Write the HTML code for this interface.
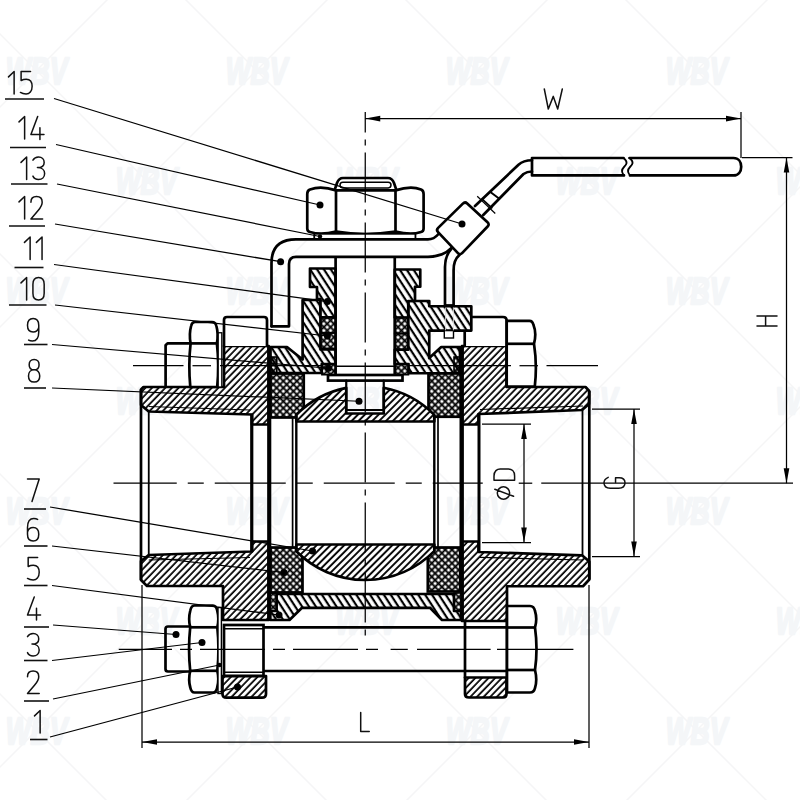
<!DOCTYPE html><html><head><meta charset="utf-8"><title>Ball valve</title>
<style>html,body{margin:0;padding:0;background:#fff}svg{display:block}text{font-family:"Liberation Sans",sans-serif}</style></head><body>
<svg width="800" height="800" viewBox="0 0 800 800">
<defs>
<pattern id="hA" width="4.77" height="4.77" patternUnits="userSpaceOnUse" patternTransform="rotate(-46)"><line x1="0" y1="2" x2="4.77" y2="2" stroke="#000" stroke-width="1.75"/></pattern>
<pattern id="hB" width="4.86" height="4.86" patternUnits="userSpaceOnUse" patternTransform="rotate(-45)"><line x1="0" y1="2" x2="4.86" y2="2" stroke="#000" stroke-width="1.9"/></pattern>
<pattern id="hC" width="5.77" height="5.77" patternUnits="userSpaceOnUse" patternTransform="rotate(57)"><line x1="0" y1="2" x2="5.77" y2="2" stroke="#000" stroke-width="2.2"/></pattern>
<pattern id="hX" width="4.77" height="4.77" patternUnits="userSpaceOnUse" patternTransform="rotate(45)"><path d="M0,2.385 L4.77,2.385 M2.385,0 L2.385,4.77" stroke="#000" stroke-width="1.85"/></pattern>
<pattern id="hP" width="4.77" height="4.77" patternUnits="userSpaceOnUse" patternTransform="rotate(45)"><path d="M0,2.385 L4.77,2.385 M2.385,0 L2.385,4.77" stroke="#000" stroke-width="1.8"/></pattern>
<pattern id="hD" width="2.6" height="2.6" patternUnits="userSpaceOnUse" patternTransform="rotate(-45)"><line x1="0" y1="1.3" x2="2.6" y2="1.3" stroke="#000" stroke-width="1.5"/></pattern>
</defs>
<rect width="800" height="800" fill="#fff"/>
<g stroke="#f5f5f6" stroke-width="1.5">
<line x1="-1234" y1="-100" x2="-234" y2="900"/>
<line x1="-1014" y1="-100" x2="-14" y2="900"/>
<line x1="-794" y1="-100" x2="206" y2="900"/>
<line x1="-574" y1="-100" x2="426" y2="900"/>
<line x1="-354" y1="-100" x2="646" y2="900"/>
<line x1="-134" y1="-100" x2="866" y2="900"/>
<line x1="86" y1="-100" x2="1086" y2="900"/>
<line x1="306" y1="-100" x2="1306" y2="900"/>
<line x1="526" y1="-100" x2="1526" y2="900"/>
<line x1="746" y1="-100" x2="1746" y2="900"/>
<line x1="966" y1="-100" x2="1966" y2="900"/>
<line x1="-13" y1="-100" x2="-1013" y2="900"/>
<line x1="207" y1="-100" x2="-793" y2="900"/>
<line x1="427" y1="-100" x2="-573" y2="900"/>
<line x1="647" y1="-100" x2="-353" y2="900"/>
<line x1="867" y1="-100" x2="-133" y2="900"/>
<line x1="1087" y1="-100" x2="87" y2="900"/>
<line x1="1307" y1="-100" x2="307" y2="900"/>
<line x1="1527" y1="-100" x2="527" y2="900"/>
<line x1="1747" y1="-100" x2="747" y2="900"/>
<line x1="1967" y1="-100" x2="967" y2="900"/>
</g>
<g fill="#f4f6f8" font-weight="bold" font-style="italic" font-size="33" text-anchor="middle" style="font-family:'Liberation Sans',sans-serif">
<text x="36.5" y="82.5" transform="translate(36.5,0) translate(0,70.5) scale(0.80,1.14) translate(-36.5,-70.5)" stroke="#f4f6f8" stroke-width="2.0" stroke-linejoin="round">WBV</text>
<text x="256.5" y="82.5" transform="translate(256.5,0) translate(0,70.5) scale(0.80,1.14) translate(-256.5,-70.5)" stroke="#f4f6f8" stroke-width="2.0" stroke-linejoin="round">WBV</text>
<text x="476.5" y="82.5" transform="translate(476.5,0) translate(0,70.5) scale(0.80,1.14) translate(-476.5,-70.5)" stroke="#f4f6f8" stroke-width="2.0" stroke-linejoin="round">WBV</text>
<text x="696.5" y="82.5" transform="translate(696.5,0) translate(0,70.5) scale(0.80,1.14) translate(-696.5,-70.5)" stroke="#f4f6f8" stroke-width="2.0" stroke-linejoin="round">WBV</text>
<text x="146.5" y="192.5" transform="translate(146.5,0) translate(0,180.5) scale(0.80,1.14) translate(-146.5,-180.5)" stroke="#f4f6f8" stroke-width="2.0" stroke-linejoin="round">WBV</text>
<text x="366.5" y="192.5" transform="translate(366.5,0) translate(0,180.5) scale(0.80,1.14) translate(-366.5,-180.5)" stroke="#f4f6f8" stroke-width="2.0" stroke-linejoin="round">WBV</text>
<text x="586.5" y="192.5" transform="translate(586.5,0) translate(0,180.5) scale(0.80,1.14) translate(-586.5,-180.5)" stroke="#f4f6f8" stroke-width="2.0" stroke-linejoin="round">WBV</text>
<text x="806.5" y="192.5" transform="translate(806.5,0) translate(0,180.5) scale(0.80,1.14) translate(-806.5,-180.5)" stroke="#f4f6f8" stroke-width="2.0" stroke-linejoin="round">WBV</text>
<text x="36.5" y="302.5" transform="translate(36.5,0) translate(0,290.5) scale(0.80,1.14) translate(-36.5,-290.5)" stroke="#f4f6f8" stroke-width="2.0" stroke-linejoin="round">WBV</text>
<text x="256.5" y="302.5" transform="translate(256.5,0) translate(0,290.5) scale(0.80,1.14) translate(-256.5,-290.5)" stroke="#f4f6f8" stroke-width="2.0" stroke-linejoin="round">WBV</text>
<text x="476.5" y="302.5" transform="translate(476.5,0) translate(0,290.5) scale(0.80,1.14) translate(-476.5,-290.5)" stroke="#f4f6f8" stroke-width="2.0" stroke-linejoin="round">WBV</text>
<text x="696.5" y="302.5" transform="translate(696.5,0) translate(0,290.5) scale(0.80,1.14) translate(-696.5,-290.5)" stroke="#f4f6f8" stroke-width="2.0" stroke-linejoin="round">WBV</text>
<text x="146.5" y="412.5" transform="translate(146.5,0) translate(0,400.5) scale(0.80,1.14) translate(-146.5,-400.5)" stroke="#f4f6f8" stroke-width="2.0" stroke-linejoin="round">WBV</text>
<text x="366.5" y="412.5" transform="translate(366.5,0) translate(0,400.5) scale(0.80,1.14) translate(-366.5,-400.5)" stroke="#f4f6f8" stroke-width="2.0" stroke-linejoin="round">WBV</text>
<text x="586.5" y="412.5" transform="translate(586.5,0) translate(0,400.5) scale(0.80,1.14) translate(-586.5,-400.5)" stroke="#f4f6f8" stroke-width="2.0" stroke-linejoin="round">WBV</text>
<text x="806.5" y="412.5" transform="translate(806.5,0) translate(0,400.5) scale(0.80,1.14) translate(-806.5,-400.5)" stroke="#f4f6f8" stroke-width="2.0" stroke-linejoin="round">WBV</text>
<text x="36.5" y="522.5" transform="translate(36.5,0) translate(0,510.5) scale(0.80,1.14) translate(-36.5,-510.5)" stroke="#f4f6f8" stroke-width="2.0" stroke-linejoin="round">WBV</text>
<text x="256.5" y="522.5" transform="translate(256.5,0) translate(0,510.5) scale(0.80,1.14) translate(-256.5,-510.5)" stroke="#f4f6f8" stroke-width="2.0" stroke-linejoin="round">WBV</text>
<text x="476.5" y="522.5" transform="translate(476.5,0) translate(0,510.5) scale(0.80,1.14) translate(-476.5,-510.5)" stroke="#f4f6f8" stroke-width="2.0" stroke-linejoin="round">WBV</text>
<text x="696.5" y="522.5" transform="translate(696.5,0) translate(0,510.5) scale(0.80,1.14) translate(-696.5,-510.5)" stroke="#f4f6f8" stroke-width="2.0" stroke-linejoin="round">WBV</text>
<text x="146.5" y="632.5" transform="translate(146.5,0) translate(0,620.5) scale(0.80,1.14) translate(-146.5,-620.5)" stroke="#f4f6f8" stroke-width="2.0" stroke-linejoin="round">WBV</text>
<text x="366.5" y="632.5" transform="translate(366.5,0) translate(0,620.5) scale(0.80,1.14) translate(-366.5,-620.5)" stroke="#f4f6f8" stroke-width="2.0" stroke-linejoin="round">WBV</text>
<text x="586.5" y="632.5" transform="translate(586.5,0) translate(0,620.5) scale(0.80,1.14) translate(-586.5,-620.5)" stroke="#f4f6f8" stroke-width="2.0" stroke-linejoin="round">WBV</text>
<text x="806.5" y="632.5" transform="translate(806.5,0) translate(0,620.5) scale(0.80,1.14) translate(-806.5,-620.5)" stroke="#f4f6f8" stroke-width="2.0" stroke-linejoin="round">WBV</text>
<text x="36.5" y="742.5" transform="translate(36.5,0) translate(0,730.5) scale(0.80,1.14) translate(-36.5,-730.5)" stroke="#f4f6f8" stroke-width="2.0" stroke-linejoin="round">WBV</text>
<text x="256.5" y="742.5" transform="translate(256.5,0) translate(0,730.5) scale(0.80,1.14) translate(-256.5,-730.5)" stroke="#f4f6f8" stroke-width="2.0" stroke-linejoin="round">WBV</text>
<text x="476.5" y="742.5" transform="translate(476.5,0) translate(0,730.5) scale(0.80,1.14) translate(-476.5,-730.5)" stroke="#f4f6f8" stroke-width="2.0" stroke-linejoin="round">WBV</text>
<text x="696.5" y="742.5" transform="translate(696.5,0) translate(0,730.5) scale(0.80,1.14) translate(-696.5,-730.5)" stroke="#f4f6f8" stroke-width="2.0" stroke-linejoin="round">WBV</text>
</g>
<polygon points="141.00,389.50 143.50,387.00 224.00,387.00 224.00,346.00 268.75,346.00 268.75,424.50 252.00,424.50 252.00,414.50 148.75,411.50 141.00,405.00" fill="#fff" stroke="none"/>
<polygon points="141.00,389.50 143.50,387.00 224.00,387.00 224.00,346.00 268.75,346.00 268.75,424.50 252.00,424.50 252.00,414.50 148.75,411.50 141.00,405.00" fill="url(#hA)" stroke="#000" stroke-width="2.7" stroke-linejoin="round" />
<polygon points="141.00,580.00 147.00,586.00 223.00,586.00 223.00,620.00 268.75,620.00 268.75,541.50 252.00,541.50 252.00,551.50 148.75,555.00 141.00,561.00" fill="#fff" stroke="none"/>
<polygon points="141.00,580.00 147.00,586.00 223.00,586.00 223.00,620.00 268.75,620.00 268.75,541.50 252.00,541.50 252.00,551.50 148.75,555.00 141.00,561.00" fill="url(#hA)" stroke="#000" stroke-width="2.7" stroke-linejoin="round" />
<polygon points="589.20,391.00 585.50,387.00 506.50,387.00 506.50,346.00 462.00,346.00 462.00,424.50 478.50,424.50 478.50,414.00 582.00,410.00 589.00,404.00" fill="#fff" stroke="none"/>
<polygon points="589.20,391.00 585.50,387.00 506.50,387.00 506.50,346.00 462.00,346.00 462.00,424.50 478.50,424.50 478.50,414.00 582.00,410.00 589.00,404.00" fill="url(#hA)" stroke="#000" stroke-width="2.7" stroke-linejoin="round" />
<polygon points="589.30,579.50 583.00,586.25 507.00,586.25 507.00,621.00 462.00,621.00 462.00,541.50 478.50,541.50 478.50,552.00 582.00,555.30 589.30,561.50" fill="#fff" stroke="none"/>
<polygon points="589.30,579.50 583.00,586.25 507.00,586.25 507.00,621.00 462.00,621.00 462.00,541.50 478.50,541.50 478.50,552.00 582.00,555.30 589.30,561.50" fill="url(#hA)" stroke="#000" stroke-width="2.7" stroke-linejoin="round" />
<line x1="148.75" y1="406.50" x2="250.00" y2="410.00" stroke="#000" stroke-width="1.25" />
<line x1="148.75" y1="560.00" x2="250.00" y2="557.50" stroke="#000" stroke-width="1.25" />
<line x1="583.00" y1="406.00" x2="480.00" y2="409.50" stroke="#000" stroke-width="1.25" />
<line x1="583.00" y1="560.00" x2="480.00" y2="557.30" stroke="#000" stroke-width="1.25" />
<line x1="141.00" y1="389.50" x2="141.00" y2="580.00" stroke="#000" stroke-width="2.7" />
<line x1="148.75" y1="411.50" x2="148.75" y2="555.00" stroke="#000" stroke-width="1.8" />
<line x1="251.75" y1="414.50" x2="251.75" y2="551.50" stroke="#000" stroke-width="3.2" />
<line x1="268.75" y1="346.00" x2="268.75" y2="620.00" stroke="#000" stroke-width="3.2" />
<line x1="589.30" y1="391.00" x2="589.30" y2="579.50" stroke="#000" stroke-width="2.7" />
<line x1="582.50" y1="410.00" x2="582.50" y2="555.30" stroke="#000" stroke-width="1.8" />
<line x1="479.00" y1="414.00" x2="479.00" y2="552.00" stroke="#000" stroke-width="3.0" />
<line x1="462.30" y1="346.00" x2="462.30" y2="621.00" stroke="#000" stroke-width="3.2" />
<rect x="270.50" y="373.50" width="33.25" height="44.00" rx="0" fill="url(#hX)" stroke="#000" stroke-width="2.7"/>
<rect x="270.50" y="547.50" width="32.00" height="45.00" rx="0" fill="url(#hX)" stroke="#000" stroke-width="2.7"/>
<rect x="428.50" y="373.25" width="32.25" height="43.50" rx="0" fill="url(#hX)" stroke="#000" stroke-width="2.7"/>
<rect x="427.80" y="547.50" width="32.40" height="44.00" rx="0" fill="url(#hX)" stroke="#000" stroke-width="2.7"/>
<line x1="270.50" y1="417.50" x2="270.50" y2="547.50" stroke="#000" stroke-width="1.6" />
<line x1="460.30" y1="417.00" x2="460.30" y2="547.50" stroke="#000" stroke-width="1.6" />
<path d="M296.3,421.5 L296.3,414.77 A97.0,97.0 0 0 1 346.25,387.88 L346.25,413.5 L383.75,413.5 L383.75,387.78 A97.0,97.0 0 0 1 434.3,414.87 L434.3,421.5 Z" fill="#fff" stroke="none" stroke-width="2.7" stroke-linejoin="round" stroke-linecap="round" />
<path d="M296.3,421.5 L296.3,414.77 A97.0,97.0 0 0 1 346.25,387.88 L346.25,413.5 L383.75,413.5 L383.75,387.78 A97.0,97.0 0 0 1 434.3,414.87 L434.3,421.5 Z" fill="url(#hB)" stroke="#000" stroke-width="2.7" stroke-linejoin="round" stroke-linecap="round" />
<path d="M296.3,544.5 L296.3,551.23 A97.0,97.0 0 0 0 434.3,551.13 L434.3,544.5 Z" fill="#fff" stroke="none" stroke-width="2.7" stroke-linejoin="round" stroke-linecap="round" />
<path d="M296.3,544.5 L296.3,551.23 A97.0,97.0 0 0 0 434.3,551.13 L434.3,544.5 Z" fill="url(#hB)" stroke="#000" stroke-width="2.7" stroke-linejoin="round" stroke-linecap="round" />
<line x1="292.60" y1="417.50" x2="292.60" y2="547.50" stroke="#000" stroke-width="1.7" />
<line x1="296.30" y1="415.00" x2="296.30" y2="551.00" stroke="#000" stroke-width="2.4" />
<line x1="434.30" y1="415.00" x2="434.30" y2="551.00" stroke="#000" stroke-width="2.4" />
<line x1="438.00" y1="417.00" x2="438.00" y2="547.50" stroke="#000" stroke-width="1.7" />
<path d="M464.7,346 L464.7,317 L503,317 Q506.7,317 506.7,321 L506.7,346" fill="#fff" stroke="#000" stroke-width="2.7" stroke-linejoin="round" stroke-linecap="round" />
<polygon points="270.50,347.00 287.00,347.00 302.60,359.50 302.60,300.00 320.50,300.00 320.50,349.50 335.60,349.50 335.60,364.00 321.75,364.00 321.75,373.00 270.50,373.00" fill="#fff" stroke="none"/>
<polygon points="270.50,347.00 287.00,347.00 302.60,359.50 302.60,300.00 320.50,300.00 320.50,349.50 335.60,349.50 335.60,364.00 321.75,364.00 321.75,373.00 270.50,373.00" fill="url(#hC)" stroke="#000" stroke-width="2.7" stroke-linejoin="round" />
<polygon points="460.00,347.00 441.25,347.00 429.25,358.00 429.25,330.60 471.30,330.60 471.30,306.25 429.25,306.25 429.25,301.00 408.25,301.00 408.25,349.75 394.75,349.75 394.75,364.00 408.50,364.00 408.50,373.25 460.00,373.25" fill="#fff" stroke="none"/>
<polygon points="460.00,347.00 441.25,347.00 429.25,358.00 429.25,330.60 471.30,330.60 471.30,306.25 429.25,306.25 429.25,301.00 408.25,301.00 408.25,349.75 394.75,349.75 394.75,364.00 408.50,364.00 408.50,373.25 460.00,373.25" fill="url(#hC)" stroke="#000" stroke-width="2.7" stroke-linejoin="round" />
<polygon points="276.60,594.00 454.00,594.00 454.00,611.00 461.00,611.00 461.00,620.00 442.00,620.00 430.00,607.80 302.00,607.80 289.50,620.00 270.30,620.00 270.30,611.00 276.60,611.00" fill="#fff" stroke="none"/>
<polygon points="276.60,594.00 454.00,594.00 454.00,611.00 461.00,611.00 461.00,620.00 442.00,620.00 430.00,607.80 302.00,607.80 289.50,620.00 270.30,620.00 270.30,611.00 276.60,611.00" fill="url(#hC)" stroke="#000" stroke-width="2.7" stroke-linejoin="round" />
<rect x="270.30" y="357.00" width="6.50" height="16.50" rx="0" fill="url(#hX)" stroke="#000" stroke-width="1.6"/>
<rect x="454.00" y="357.00" width="6.70" height="16.30" rx="0" fill="url(#hX)" stroke="#000" stroke-width="1.6"/>
<rect x="270.30" y="593.00" width="6.30" height="18.00" rx="0" fill="url(#hX)" stroke="#000" stroke-width="1.6"/>
<rect x="454.00" y="593.00" width="7.00" height="18.00" rx="0" fill="url(#hX)" stroke="#000" stroke-width="1.6"/>
<rect x="321.90" y="364.00" width="13.70" height="10.70" rx="0" fill="url(#hX)" stroke="#000" stroke-width="1.6"/>
<rect x="394.75" y="364.00" width="13.70" height="10.70" rx="0" fill="url(#hX)" stroke="#000" stroke-width="1.6"/>
<polygon points="310.00,268.50 335.60,268.50 335.60,317.40 320.50,317.40 320.50,299.00 317.00,299.00 317.00,287.00 310.00,287.00" fill="#fff" stroke="none"/>
<polygon points="310.00,268.50 335.60,268.50 335.60,317.40 320.50,317.40 320.50,299.00 317.00,299.00 317.00,287.00 310.00,287.00" fill="url(#hC)" stroke="#000" stroke-width="2.7" stroke-linejoin="round" />
<polygon points="420.25,269.50 394.75,269.50 394.75,317.50 408.25,317.50 408.25,301.00 415.00,301.00 415.00,286.75 420.25,286.75" fill="#fff" stroke="none"/>
<polygon points="420.25,269.50 394.75,269.50 394.75,317.50 408.25,317.50 408.25,301.00 415.00,301.00 415.00,286.75 420.25,286.75" fill="url(#hC)" stroke="#000" stroke-width="2.7" stroke-linejoin="round" />
<rect x="320.50" y="317.40" width="15.10" height="15.50" rx="0" fill="url(#hP)" stroke="#000" stroke-width="1.8"/>
<rect x="320.50" y="332.90" width="15.10" height="15.50" rx="0" fill="url(#hP)" stroke="#000" stroke-width="1.8"/>
<rect x="394.75" y="317.50" width="13.50" height="16.00" rx="0" fill="url(#hP)" stroke="#000" stroke-width="1.8"/>
<rect x="394.75" y="333.50" width="13.50" height="16.00" rx="0" fill="url(#hP)" stroke="#000" stroke-width="1.8"/>
<line x1="335.60" y1="256.00" x2="335.60" y2="375.00" stroke="#000" stroke-width="2.7" />
<line x1="394.75" y1="256.00" x2="394.75" y2="375.00" stroke="#000" stroke-width="2.7" />
<line x1="335.60" y1="366.30" x2="394.75" y2="366.30" stroke="#000" stroke-width="1.5" />
<rect x="328.00" y="375.00" width="74.50" height="5.60" rx="0" fill="#fff" stroke="#000" stroke-width="2.7"/>
<polyline points="346.25,380.60 346.25,410.00 383.75,410.00 383.75,380.60" fill="none" stroke="#000" stroke-width="2.2" stroke-linejoin="round" stroke-linecap="round" />
<path d="M334.5,190.4 L337,183 Q339,178 343,178 L388,178 Q392,178 394,183 L396.5,190.4 Z" fill="#fff" stroke="#000" stroke-width="2.7" stroke-linejoin="round" stroke-linecap="round" />
<rect x="340.00" y="182.30" width="51.00" height="5.60" rx="2.8" fill="none" stroke="#000" stroke-width="1.5"/>
<path d="M336,190.4 Q321,185.5 310,189.5 Q307.25,190.5 307.25,194 L307.25,228.5 Q307.25,231.5 310,232 Q321,235.5 336,231.5 Q365,236.5 395.5,231.5 Q411,235.5 421,232 Q423.6,231.5 423.6,228.5 L423.6,194 Q423.6,190.5 421,189.5 Q411,185.5 395.5,190.4 Z" fill="#fff" stroke="#000" stroke-width="2.7" stroke-linejoin="round" stroke-linecap="round" />
<line x1="336.00" y1="190.40" x2="336.00" y2="231.50" stroke="#000" stroke-width="2.7" />
<line x1="395.50" y1="190.40" x2="395.50" y2="231.50" stroke="#000" stroke-width="2.7" />
<rect x="314.25" y="233.80" width="101.20" height="5.20" rx="0" fill="#fff" stroke="#000" stroke-width="1.8"/>
<path d="M271.5,326.3 L271.5,263 Q271.5,239.4 296,239.4 L428,239.4 Q434,239.4 438.5,234" fill="none" stroke="#000" stroke-width="2.7" stroke-linejoin="round" stroke-linecap="round" />
<path d="M271.5,326.3 L289,326.3 L289,264 Q289,256.8 296,256.8 L428,256.8 Q443,256.8 451.5,248" fill="none" stroke="#000" stroke-width="2.7" stroke-linejoin="round" stroke-linecap="round" />
<path d="M451.3,248.8 Q445,256 445,267 L445,306.25" fill="none" stroke="#000" stroke-width="2.7" stroke-linejoin="round" stroke-linecap="round" />
<path d="M459.4,255 Q453.6,260 453.6,270 L453.6,306.25" fill="none" stroke="#000" stroke-width="2.7" stroke-linejoin="round" stroke-linecap="round" />
<rect x="444.30" y="330.60" width="9.20" height="7.40" rx="0" fill="#fff" stroke="#000" stroke-width="1.4"/>
<line x1="445.00" y1="305.20" x2="454.00" y2="305.20" stroke="#000" stroke-width="2.2" />
<line x1="445.60" y1="307.50" x2="445.60" y2="330.30" stroke="#ddd" stroke-width="0.9" />
<line x1="453.40" y1="307.50" x2="453.40" y2="330.30" stroke="#ddd" stroke-width="0.9" />
<path d="M462.86,203.60 Q465.00,201.50 467.20,203.54 L487.50,222.36 Q489.70,224.40 487.62,226.56 L462.08,253.14 Q460.00,255.30 457.94,253.12 L438.06,232.18 Q436.00,230.00 438.14,227.90 Z" fill="#fff" stroke="#000" stroke-width="2.7" stroke-linejoin="round" stroke-linecap="round" />
<path d="M532,160.25 Q523.5,160.25 518.5,164.75 L475,206" fill="none" stroke="#000" stroke-width="2.7" stroke-linejoin="round" stroke-linecap="round" />
<path d="M532,171.5 Q527,171.5 523.5,174 L483.25,215" fill="none" stroke="#000" stroke-width="2.7" stroke-linejoin="round" stroke-linecap="round" />
<line x1="490.00" y1="191.75" x2="499.00" y2="198.50" stroke="#000" stroke-width="2.0" />
<line x1="477.25" y1="196.25" x2="495.25" y2="213.50" stroke="#000" stroke-width="1.2" />
<line x1="482.80" y1="199.60" x2="492.30" y2="208.40" stroke="#000" stroke-width="1.6" />
<path d="M532,158 L623.5,158 M629.5,158 L733.5,158 C738.5,158 741.2,162 741.2,166.7 C741.2,171.4 738.5,175.4 733.5,175.4 L630,175.4 M624,175.4 L532,175.4 L532,158" fill="none" stroke="#000" stroke-width="2.7" stroke-linejoin="round" stroke-linecap="round" />
<path d="M623.5,158 C628.5,162 626.5,164.5 624,167 C621.5,169.5 621,172 624,175.4 M629.5,158 C634.5,162 632.5,164.5 630,167 C627.5,169.5 627,172 630,175.4" fill="none" stroke="#000" stroke-width="1.8" stroke-linejoin="round" stroke-linecap="round" />
<path d="M224,346 L224,320 Q224,317 227,317 L264,317 Q267,317 267,320 L267,346" fill="#fff" stroke="#000" stroke-width="2.7" stroke-linejoin="round" stroke-linecap="round" />
<path d="M195,322 L212,322 Q215.5,322 216.4,326 Q218.6,334 216.9,343.4 Q219.3,365 217.2,387 L190.3,387 Q188.2,365 190.6,343.4 Q188.9,334 191.1,326 Q192,322 195,322 Z" fill="#fff" stroke="#000" stroke-width="2.7" stroke-linejoin="round" stroke-linecap="round" />
<line x1="190.60" y1="343.40" x2="216.90" y2="343.40" stroke="#000" stroke-width="2.7" />
<polyline points="190.30,343.40 167.50,343.40 165.60,345.30 165.60,387.00" fill="none" stroke="#000" stroke-width="2.7" stroke-linejoin="round" stroke-linecap="round" />
<rect x="218.20" y="332.75" width="3.60" height="54.25" rx="0" fill="#fff" stroke="#000" stroke-width="1.3"/>
<path d="M506.7,320.8 L529.5,320.8 Q532.5,320.8 533.5,325 Q536.8,333 534,343.8 Q537.3,365 534.8,386.5 L506.7,386.5 Z" fill="#fff" stroke="#000" stroke-width="2.7" stroke-linejoin="round" stroke-linecap="round" />
<line x1="506.70" y1="343.80" x2="534.00" y2="343.80" stroke="#000" stroke-width="2.7" />
<line x1="263.50" y1="627.30" x2="507.00" y2="627.30" stroke="#000" stroke-width="2.7" />
<line x1="263.50" y1="671.00" x2="507.00" y2="671.00" stroke="#000" stroke-width="2.7" />
<rect x="224.00" y="625.00" width="39.50" height="51.00" rx="0" fill="none" stroke="#000" stroke-width="2.7"/>
<line x1="224.00" y1="628.70" x2="263.50" y2="628.70" stroke="#000" stroke-width="1.6" />
<line x1="224.00" y1="672.20" x2="263.50" y2="672.20" stroke="#000" stroke-width="1.6" />
<polyline points="465.00,621.00 465.00,677.50" fill="none" stroke="#000" stroke-width="2.7" stroke-linejoin="round" stroke-linecap="round" />
<polyline points="507.00,621.00 507.00,677.50" fill="none" stroke="#000" stroke-width="2.7" stroke-linejoin="round" stroke-linecap="round" />
<path d="M222.5,676 L266,676 L266,694 Q266,697.7 262,697.7 L226.5,697.7 Q222.5,697.7 222.5,694 Z" fill="url(#hA)" stroke="#000" stroke-width="2.7" stroke-linejoin="round" stroke-linecap="round" />
<path d="M465,677.5 L506.5,677.5 L506.5,694 Q506.5,697.5 503,697.5 L469,697.5 Q465,697.5 465,694 Z" fill="url(#hA)" stroke="#000" stroke-width="2.7" stroke-linejoin="round" stroke-linecap="round" />
<path d="M194.5,605.5 L213,605.5 Q216.2,605.5 217.2,610.5 Q219.4,619 217.3,627.3 Q219.6,649 217.3,670.8 Q219.4,680 217.2,687.5 Q216.2,692.5 213,692.5 L194.5,692.5 Q191.3,692.5 190.3,687.5 Q188.1,680 190.2,670.8 Q187.9,649 190.2,627.3 Q188.1,619 190.3,610.5 Q191.3,605.5 194.5,605.5 Z" fill="#fff" stroke="#000" stroke-width="2.7" stroke-linejoin="round" stroke-linecap="round" />
<line x1="190.20" y1="627.30" x2="217.30" y2="627.30" stroke="#000" stroke-width="2.7" />
<line x1="190.20" y1="670.80" x2="217.30" y2="670.80" stroke="#000" stroke-width="2.7" />
<rect x="218.00" y="607.50" width="3.40" height="86.00" rx="0" fill="#fff" stroke="#000" stroke-width="1.4"/>
<path d="M190.2,626.5 L168,626.5 Q165.5,626.5 165.5,629 L165.5,669 Q165.5,671.5 168,671.5 L190.2,671.5" fill="none" stroke="#000" stroke-width="2.7" stroke-linejoin="round" stroke-linecap="round" />
<path d="M507,606 L530,606 Q534,606 535,611 Q537.5,619 535,627.5 Q538,649 535,670 Q537.5,680 535,688 Q534,692.5 530,692.5 L507,692.5 Z" fill="#fff" stroke="#000" stroke-width="2.7" stroke-linejoin="round" stroke-linecap="round" />
<line x1="507.00" y1="627.50" x2="535.00" y2="627.50" stroke="#000" stroke-width="2.7" />
<line x1="507.00" y1="670.00" x2="535.00" y2="670.00" stroke="#000" stroke-width="2.7" />
<line x1="365.25" y1="112.00" x2="365.25" y2="642.50" stroke="#000" stroke-width="1.25" stroke-dasharray="50 7 6 7" stroke-dashoffset="29.5"/>
<line x1="113.50" y1="483.20" x2="482.75" y2="483.20" stroke="#000" stroke-width="1.25" stroke-dasharray="71 11 16 11" stroke-dashoffset="7.75"/>
<line x1="518.75" y1="483.20" x2="532.25" y2="483.20" stroke="#000" stroke-width="1.25" />
<line x1="541.25" y1="483.20" x2="793.00" y2="483.20" stroke="#000" stroke-width="1.25" />
<line x1="133.00" y1="365.70" x2="183.50" y2="365.70" stroke="#000" stroke-width="1.25" />
<line x1="192.50" y1="365.70" x2="211.00" y2="365.70" stroke="#000" stroke-width="1.25" />
<line x1="220.00" y1="365.70" x2="322.00" y2="365.70" stroke="#000" stroke-width="1.25" />
<line x1="408.50" y1="365.70" x2="511.00" y2="365.70" stroke="#000" stroke-width="1.25" />
<line x1="519.50" y1="365.70" x2="538.00" y2="365.70" stroke="#000" stroke-width="1.25" />
<line x1="546.50" y1="365.70" x2="598.00" y2="365.70" stroke="#000" stroke-width="1.25" />
<line x1="118.75" y1="649.40" x2="381.00" y2="649.40" stroke="#000" stroke-width="1.25" stroke-dasharray="65 8 12 8" stroke-dashoffset="11.75"/>
<line x1="390.60" y1="649.40" x2="407.80" y2="649.40" stroke="#000" stroke-width="1.25" />
<line x1="417.00" y1="649.40" x2="490.60" y2="649.40" stroke="#000" stroke-width="1.25" />
<line x1="497.00" y1="649.40" x2="573.40" y2="649.40" stroke="#000" stroke-width="1.25" />
<line x1="365.25" y1="118.60" x2="741.00" y2="118.60" stroke="#000" stroke-width="1.25" />
<polygon points="365.25,118.60 380.25,115.80 380.25,121.40" fill="#000"/>
<polygon points="741.00,118.60 726.00,121.40 726.00,115.80" fill="#000"/>
<line x1="741.00" y1="112.00" x2="741.00" y2="158.00" stroke="#000" stroke-width="1.25" />
<line x1="786.50" y1="157.60" x2="786.50" y2="483.20" stroke="#000" stroke-width="1.25" />
<polygon points="786.50,157.60 789.30,172.60 783.70,172.60" fill="#000"/>
<polygon points="786.50,483.20 783.70,468.20 789.30,468.20" fill="#000"/>
<line x1="742.00" y1="157.60" x2="792.50" y2="157.60" stroke="#000" stroke-width="1.25" />
<line x1="142.00" y1="742.00" x2="589.00" y2="742.00" stroke="#000" stroke-width="1.25" />
<polygon points="142.00,742.00 157.00,739.20 157.00,744.80" fill="#000"/>
<polygon points="589.00,742.00 574.00,744.80 574.00,739.20" fill="#000"/>
<line x1="142.00" y1="585.00" x2="142.00" y2="748.00" stroke="#000" stroke-width="1.25" />
<line x1="589.00" y1="585.00" x2="589.00" y2="748.00" stroke="#000" stroke-width="1.25" />
<line x1="524.00" y1="424.00" x2="524.00" y2="542.50" stroke="#000" stroke-width="1.25" />
<polygon points="524.00,424.00 526.80,439.00 521.20,439.00" fill="#000"/>
<polygon points="524.00,542.50 521.20,527.50 526.80,527.50" fill="#000"/>
<line x1="482.00" y1="424.00" x2="531.00" y2="424.00" stroke="#000" stroke-width="1.25" />
<line x1="482.00" y1="542.50" x2="531.00" y2="542.50" stroke="#000" stroke-width="1.25" />
<line x1="634.00" y1="409.00" x2="634.00" y2="556.50" stroke="#000" stroke-width="1.25" />
<polygon points="634.00,409.00 636.80,424.00 631.20,424.00" fill="#000"/>
<polygon points="634.00,556.50 631.20,541.50 636.80,541.50" fill="#000"/>
<line x1="592.00" y1="409.00" x2="640.00" y2="409.00" stroke="#000" stroke-width="1.25" />
<line x1="592.00" y1="556.50" x2="640.00" y2="556.50" stroke="#000" stroke-width="1.25" />
<line x1="54.00" y1="98.50" x2="462.00" y2="224.00" stroke="#000" stroke-width="1.25" />
<circle cx="462.00" cy="224.00" r="3.5" fill="#000"/>
<line x1="56.00" y1="144.50" x2="320.00" y2="205.00" stroke="#000" stroke-width="1.25" />
<circle cx="320.00" cy="205.00" r="3.5" fill="#000"/>
<line x1="57.00" y1="184.00" x2="320.00" y2="236.50" stroke="#000" stroke-width="1.25" />
<circle cx="320.00" cy="236.50" r="2.2" fill="#000"/>
<line x1="55.00" y1="224.00" x2="280.60" y2="261.70" stroke="#000" stroke-width="1.25" />
<circle cx="280.60" cy="261.70" r="3.5" fill="#000"/>
<line x1="54.00" y1="264.50" x2="327.40" y2="301.60" stroke="#000" stroke-width="1.25" />
<circle cx="327.40" cy="301.60" r="3.5" fill="#000"/>
<line x1="55.00" y1="305.00" x2="327.40" y2="336.00" stroke="#000" stroke-width="1.25" />
<circle cx="327.40" cy="336.00" r="3.5" fill="#000"/>
<line x1="52.00" y1="344.50" x2="328.50" y2="368.25" stroke="#000" stroke-width="1.25" />
<circle cx="328.50" cy="368.25" r="3.5" fill="#000"/>
<line x1="52.00" y1="388.00" x2="359.00" y2="401.25" stroke="#000" stroke-width="1.25" />
<circle cx="359.00" cy="401.25" r="3.5" fill="#000"/>
<line x1="50.00" y1="507.00" x2="312.50" y2="551.00" stroke="#000" stroke-width="1.25" />
<circle cx="312.50" cy="551.00" r="3.5" fill="#000"/>
<line x1="52.00" y1="546.00" x2="284.00" y2="572.50" stroke="#000" stroke-width="1.25" />
<circle cx="284.00" cy="572.50" r="3.5" fill="#000"/>
<line x1="52.00" y1="585.50" x2="279.00" y2="615.00" stroke="#000" stroke-width="1.25" />
<circle cx="279.00" cy="615.00" r="3.5" fill="#000"/>
<line x1="53.00" y1="625.00" x2="176.00" y2="634.50" stroke="#000" stroke-width="1.25" />
<circle cx="176.00" cy="634.50" r="3.5" fill="#000"/>
<line x1="52.00" y1="660.50" x2="202.00" y2="642.50" stroke="#000" stroke-width="1.25" />
<circle cx="202.00" cy="642.50" r="3.5" fill="#000"/>
<line x1="53.00" y1="699.00" x2="219.50" y2="665.00" stroke="#000" stroke-width="1.25" />
<circle cx="219.50" cy="665.00" r="2.2" fill="#000"/>
<line x1="50.00" y1="737.00" x2="237.50" y2="687.00" stroke="#000" stroke-width="1.25" />
<circle cx="237.50" cy="687.00" r="3.5" fill="#000"/>
<g transform=" translate(8.50,71.50) scale(22.5)" fill="none" stroke="#111" stroke-width="0.0667" stroke-linecap="round" stroke-linejoin="round"><path d="M0,0.24 L0.25,0 L0.25,1" transform="translate(0.000,0)"/><path d="M0.45,0 L0.03,0 L0.03,0.4 C0.1,0.36 0.18,0.34 0.26,0.34 C0.42,0.34 0.52,0.46 0.52,0.66 C0.52,0.88 0.4,1 0.25,1 C0.14,1 0.06,0.97 0,0.93" transform="translate(0.530,0)"/></g>
<line x1="5.00" y1="99.00" x2="44.00" y2="99.00" stroke="#111" stroke-width="1.6" />
<g transform=" translate(19.00,116.50) scale(22.5)" fill="none" stroke="#111" stroke-width="0.0667" stroke-linecap="round" stroke-linejoin="round"><path d="M0,0.24 L0.25,0 L0.25,1" transform="translate(0.000,0)"/><path d="M0.3,0 L0,0.8 L0.58,0.8 M0.4,0.5 L0.4,1.02" transform="translate(0.530,0)"/></g>
<line x1="10.00" y1="147.50" x2="46.00" y2="147.50" stroke="#111" stroke-width="1.6" />
<g transform=" translate(21.00,157.00) scale(22.5)" fill="none" stroke="#111" stroke-width="0.0667" stroke-linecap="round" stroke-linejoin="round"><path d="M0,0.24 L0.25,0 L0.25,1" transform="translate(0.000,0)"/><path d="M0,0.14 C0.05,0.05 0.14,0 0.25,0 C0.4,0 0.5,0.1 0.5,0.24 C0.5,0.38 0.4,0.47 0.2,0.47 C0.4,0.47 0.52,0.58 0.52,0.73 C0.52,0.9 0.4,1 0.25,1 C0.12,1 0.04,0.94 0,0.85" transform="translate(0.530,0)"/></g>
<line x1="11.00" y1="184.00" x2="47.50" y2="184.00" stroke="#111" stroke-width="1.6" />
<g transform=" translate(19.00,196.50) scale(22.5)" fill="none" stroke="#111" stroke-width="0.0667" stroke-linecap="round" stroke-linejoin="round"><path d="M0,0.24 L0.25,0 L0.25,1" transform="translate(0.000,0)"/><path d="M0,0.25 C0,0.08 0.1,0 0.25,0 C0.4,0 0.5,0.08 0.5,0.25 C0.5,0.4 0.42,0.5 0.32,0.62 L0,1 L0.52,1" transform="translate(0.530,0)"/></g>
<line x1="9.00" y1="226.00" x2="45.00" y2="226.00" stroke="#111" stroke-width="1.6" />
<g transform=" translate(24.50,237.00) scale(22.5)" fill="none" stroke="#111" stroke-width="0.0667" stroke-linecap="round" stroke-linejoin="round"><path d="M0,0.24 L0.25,0 L0.25,1" transform="translate(0.000,0)"/><path d="M0,0.24 L0.25,0 L0.25,1" transform="translate(0.530,0)"/></g>
<line x1="14.50" y1="267.50" x2="43.50" y2="267.50" stroke="#111" stroke-width="1.6" />
<g transform=" translate(21.00,277.50) scale(22.5)" fill="none" stroke="#111" stroke-width="0.0667" stroke-linecap="round" stroke-linejoin="round"><path d="M0,0.24 L0.25,0 L0.25,1" transform="translate(0.000,0)"/><path d="M0.25,0 C0.08,0 0,0.12 0,0.3 L0,0.7 C0,0.88 0.08,1 0.25,1 C0.42,1 0.5,0.88 0.5,0.7 L0.5,0.3 C0.5,0.12 0.42,0 0.25,0 Z" transform="translate(0.530,0)"/></g>
<line x1="9.00" y1="305.00" x2="46.50" y2="305.00" stroke="#111" stroke-width="1.6" />
<g transform=" translate(27.50,318.50) scale(22.5)" fill="none" stroke="#111" stroke-width="0.0667" stroke-linecap="round" stroke-linejoin="round"><path d="M0.05,0.96 C0.1,0.99 0.15,1 0.22,1 C0.4,1 0.5,0.85 0.5,0.6 L0.5,0.3 C0.5,0.12 0.42,0 0.25,0 C0.08,0 0,0.12 0,0.3 C0,0.5 0.08,0.6 0.25,0.6 C0.38,0.6 0.47,0.52 0.5,0.4" transform="translate(0.000,0)"/></g>
<line x1="24.00" y1="344.50" x2="47.50" y2="344.50" stroke="#111" stroke-width="1.6" />
<g transform=" translate(28.50,359.50) scale(22.5)" fill="none" stroke="#111" stroke-width="0.0667" stroke-linecap="round" stroke-linejoin="round"><path d="M0.25,0 C0.1,0 0.03,0.1 0.03,0.23 C0.03,0.37 0.12,0.46 0.25,0.46 C0.38,0.46 0.47,0.37 0.47,0.23 C0.47,0.1 0.4,0 0.25,0 Z M0.25,0.46 C0.1,0.46 0,0.57 0,0.73 C0,0.9 0.1,1 0.25,1 C0.4,1 0.5,0.9 0.5,0.73 C0.5,0.57 0.4,0.46 0.25,0.46 Z" transform="translate(0.000,0)"/></g>
<line x1="24.00" y1="388.00" x2="46.00" y2="388.00" stroke="#111" stroke-width="1.6" />
<g transform=" translate(27.50,479.00) scale(22.5)" fill="none" stroke="#111" stroke-width="0.0667" stroke-linecap="round" stroke-linejoin="round"><path d="M0,0 L0.52,0 L0.2,1" transform="translate(0.000,0)"/></g>
<line x1="24.00" y1="509.00" x2="46.00" y2="509.00" stroke="#111" stroke-width="1.6" />
<g transform=" translate(27.50,518.50) scale(22.5)" fill="none" stroke="#111" stroke-width="0.0667" stroke-linecap="round" stroke-linejoin="round"><path d="M0.45,0.04 C0.4,0.01 0.35,0 0.28,0 C0.1,0 0,0.15 0,0.4 L0,0.7 C0,0.88 0.08,1 0.25,1 C0.42,1 0.5,0.88 0.5,0.7 C0.5,0.5 0.42,0.4 0.25,0.4 C0.12,0.4 0.03,0.48 0,0.6" transform="translate(0.000,0)"/></g>
<line x1="24.00" y1="546.00" x2="47.50" y2="546.00" stroke="#111" stroke-width="1.6" />
<g transform=" translate(27.50,557.50) scale(22.5)" fill="none" stroke="#111" stroke-width="0.0667" stroke-linecap="round" stroke-linejoin="round"><path d="M0.45,0 L0.03,0 L0.03,0.4 C0.1,0.36 0.18,0.34 0.26,0.34 C0.42,0.34 0.52,0.46 0.52,0.66 C0.52,0.88 0.4,1 0.25,1 C0.14,1 0.06,0.97 0,0.93" transform="translate(0.000,0)"/></g>
<line x1="24.00" y1="585.50" x2="47.50" y2="585.50" stroke="#111" stroke-width="1.6" />
<g transform=" translate(27.50,597.00) scale(22.5)" fill="none" stroke="#111" stroke-width="0.0667" stroke-linecap="round" stroke-linejoin="round"><path d="M0.3,0 L0,0.8 L0.58,0.8 M0.4,0.5 L0.4,1.02" transform="translate(0.000,0)"/></g>
<line x1="24.00" y1="627.00" x2="49.00" y2="627.00" stroke="#111" stroke-width="1.6" />
<g transform=" translate(27.50,633.50) scale(22.5)" fill="none" stroke="#111" stroke-width="0.0667" stroke-linecap="round" stroke-linejoin="round"><path d="M0,0.14 C0.05,0.05 0.14,0 0.25,0 C0.4,0 0.5,0.1 0.5,0.24 C0.5,0.38 0.4,0.47 0.2,0.47 C0.4,0.47 0.52,0.58 0.52,0.73 C0.52,0.9 0.4,1 0.25,1 C0.12,1 0.04,0.94 0,0.85" transform="translate(0.000,0)"/></g>
<line x1="24.00" y1="660.50" x2="47.50" y2="660.50" stroke="#111" stroke-width="1.6" />
<g transform=" translate(27.50,671.00) scale(22.5)" fill="none" stroke="#111" stroke-width="0.0667" stroke-linecap="round" stroke-linejoin="round"><path d="M0,0.25 C0,0.08 0.1,0 0.25,0 C0.4,0 0.5,0.08 0.5,0.25 C0.5,0.4 0.42,0.5 0.32,0.62 L0,1 L0.52,1" transform="translate(0.000,0)"/></g>
<line x1="24.00" y1="701.00" x2="49.00" y2="701.00" stroke="#111" stroke-width="1.6" />
<g transform=" translate(34.50,710.50) scale(22.5)" fill="none" stroke="#111" stroke-width="0.0667" stroke-linecap="round" stroke-linejoin="round"><path d="M0,0.24 L0.25,0 L0.25,1" transform="translate(0.000,0)"/></g>
<line x1="30.00" y1="739.50" x2="47.50" y2="739.50" stroke="#111" stroke-width="1.6" />
<g transform=" translate(544.30,89.00) scale(20)" fill="none" stroke="#111" stroke-width="0.0750" stroke-linecap="round" stroke-linejoin="round"><path d="M0,0 L0.2,1 L0.45,0.37 L0.67,1 L0.9,0" transform="translate(0.000,0)"/></g>
<g transform=" translate(360.70,712.50) scale(19)" fill="none" stroke="#111" stroke-width="0.0789" stroke-linecap="round" stroke-linejoin="round"><path d="M0,0 L0,1 L0.45,1" transform="translate(0.000,0)"/></g>
<g transform="translate(757,326) rotate(-90) translate(0.00,0.00) scale(20)" fill="none" stroke="#111" stroke-width="0.0750" stroke-linecap="round" stroke-linejoin="round"><path d="M0,0 L0,1 M0.5,0 L0.5,1 M0,0.43 L0.5,0.43" transform="translate(0.000,0)"/></g>
<g transform="translate(604,488.3) rotate(-90) translate(0.00,0.00) scale(21)" fill="none" stroke="#111" stroke-width="0.0714" stroke-linecap="round" stroke-linejoin="round"><path d="M0.52,0.2 C0.46,0.07 0.38,0 0.26,0 C0.1,0 0,0.12 0,0.3 L0,0.7 C0,0.88 0.1,1 0.26,1 C0.42,1 0.5,0.9 0.5,0.72 L0.5,0.55 L0.28,0.55" transform="translate(0.000,0)"/></g>
<g transform="translate(494,499.8) rotate(-90) translate(0.00,0.00) scale(20.6)" fill="none" stroke="#111" stroke-width="0.0728" stroke-linecap="round" stroke-linejoin="round"><path d="M0.33,0.16 C0.16,0.16 0.03,0.3 0.03,0.46 C0.03,0.62 0.16,0.76 0.33,0.76 C0.5,0.76 0.63,0.62 0.63,0.46 C0.63,0.3 0.5,0.16 0.33,0.16 Z M0.17,0.95 L0.51,0.04" transform="translate(0.000,0)"/><path d="M0,0 L0,1 L0.2,1 C0.44,1 0.54,0.85 0.54,0.7 L0.54,0.3 C0.54,0.15 0.44,0 0.2,0 Z" transform="translate(0.955,0)"/></g>
</svg></body></html>
